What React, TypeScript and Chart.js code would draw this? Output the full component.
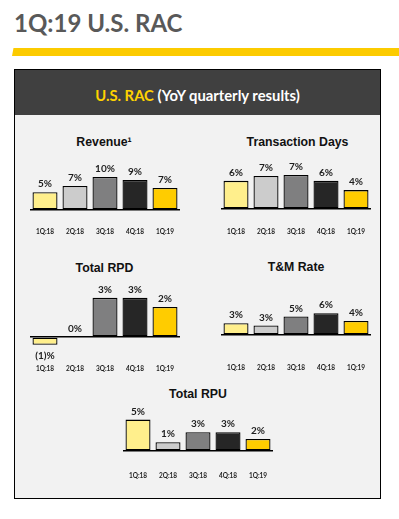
import React, { useEffect, useRef } from "react";
import { Chart, registerables } from "chart.js";

Chart.register(...registerables);

// ---- Data ----
const quarters = ["1Q:18", "2Q:18", "3Q:18", "4Q:18", "1Q:19"];

const revenue = [5.4, 7.3, 10.0, 9.1, 6.7];
const revenueLabels = ["5%", "7%", "10%", "9%", "7%"];

const transactionDays = [5.8, 6.8, 7.0, 5.8, 3.9];
const transactionDaysLabels = ["6%", "7%", "7%", "6%", "4%"];

const totalRpd = [-0.6, 0, 3.0, 3.0, 2.3];
const totalRpdLabels = ["(1)%", "0%", "3%", "3%", "2%"];

const tmRate = [3.2, 2.6, 5.0, 5.9, 3.8];
const tmRateLabels = ["3%", "3%", "5%", "6%", "4%"];

const totalRpu = [5.0, 1.4, 3.0, 3.0, 1.9];
const totalRpuLabels = ["5%", "1%", "3%", "3%", "2%"];

const barColors = ["#FFEF8C", "#CCCCCC", "#7F7F80", "#262626", "#FFCC00"];

// ---- Layout of each small chart ----
type Panel = {
  title: string;
  data: number[];
  labels: string[];
  left: number;
  top: number;
  plotH: number;
  min: number;
  max: number;
  pad: number;
  titleX: number;
  titleY: number;
};

const LABEL_LH = 8;

const panels: Panel[] = [
  { title: "Revenue\u00B9", data: revenue, labels: revenueLabels, left: 30, top: 150, plotH: 60, min: 0, max: 18.2, pad: 18, titleX: 104, titleY: 142 },
  { title: "Transaction Days", data: transactionDays, labels: transactionDaysLabels, left: 221, top: 150, plotH: 59, min: 0, max: 12.16, pad: 19, titleX: 297.5, titleY: 142 },
  { title: "Total RPD", data: totalRpd, labels: totalRpdLabels, left: 30, top: 277, plotH: 73, min: -1.0, max: 4.6, pad: 15, titleX: 104.5, titleY: 268 },
  { title: "T&M Rate", data: tmRate, labels: tmRateLabels, left: 221, top: 277, plotH: 58, min: 0, max: 15.7, pad: 29, titleX: 296, titleY: 267 },
  { title: "Total RPU", data: totalRpu, labels: totalRpuLabels, left: 123, top: 402, plotH: 49, min: 0, max: 7.8, pad: 21, titleX: 198, titleY: 394 },
];

const valueLabelPlugin = {
  id: "valueLabels",
  afterDatasetsDraw(chart: any, _args: any, opts: any) {
    const { ctx } = chart;
    const meta = chart.getDatasetMeta(0);
    const labels: string[] = opts.labels || [];
    const data = chart.data.datasets[0].data as number[];
    ctx.save();
    ctx.font = "bold 10px Lato";
    ctx.fillStyle = "#1e1e1e";
    ctx.textAlign = "center";
    ctx.textBaseline = "middle";
    meta.data.forEach((bar: any, i: number) => {
      const { x, y, base } = bar.getProps(["x", "y", "base"], true);
      const v = data[i];
      const ty = v < 0 ? Math.max(y, base) + 11 : Math.min(y, base) - 8;
      ctx.fillText(labels[i], x, ty);
    });
    ctx.restore();
  },
};

function SmallBarChart({ p }: { p: Panel }) {
  const ref = useRef<HTMLCanvasElement>(null);
  const axisH = p.pad + LABEL_LH + 2;
  const H = p.plotH + axisH;
  useEffect(() => {
    if (!ref.current) return;
    const chart = new Chart(ref.current, {
      type: "bar",
      data: {
        labels: quarters,
        datasets: [
          {
            data: p.data,
            backgroundColor: barColors,
            borderColor: "#000",
            borderWidth: 1.3,
            borderSkipped: false,
            categoryPercentage: 1,
            barPercentage: 25 / 30,
          },
        ],
      },
      options: {
        responsive: false,
        animation: false,
        devicePixelRatio: 1,
        layout: { padding: 0 },
        plugins: {
          legend: { display: false },
          tooltip: { enabled: false },
          title: { display: false },
          valueLabels: { labels: p.labels },
        } as any,
        scales: {
          x: {
            display: true,
            offset: true,
            grid: { display: false, drawTicks: false },
            border: { display: false },
            ticks: {
              padding: p.pad,
              maxRotation: 0,
              autoSkip: false,
              color: "#1e1e1e",
              font: { family: "Lato", weight: "bold", size: 6.5, lineHeight: LABEL_LH + "px" } as any,
            },
            afterFit: (s: any) => {
              s.paddingLeft = 0;
              s.paddingRight = 0;
              s.height = axisH;
            },
          },
          y: {
            display: true,
            min: p.min,
            max: p.max,
            border: { display: false },
            ticks: { display: false },
            grid: {
              drawTicks: false,
              lineWidth: 1.5,
              color: (c: any) => (c.tick && c.tick.value === 0 ? "#000" : "rgba(0,0,0,0)"),
            },
            afterBuildTicks: (s: any) => {
              s.ticks = [{ value: 0 }];
            },
            afterFit: (s: any) => {
              s.width = 0;
              s.paddingTop = 0;
              s.paddingBottom = 0;
            },
          },
        },
      },
      plugins: [valueLabelPlugin],
    });
    return () => chart.destroy();
  }, [p]);
  return (
    <canvas
      ref={ref}
      width={150}
      height={H}
      style={{ position: "absolute", left: p.left, top: p.top, width: 150, height: H }}
    />
  );
}

export default function App() {
  return (
    <div
      style={{
        position: "absolute",
        left: 0,
        top: 0,
        width: 399,
        height: 519,
        background: "#fff",
        overflow: "hidden",
      }}
    >
      <div
        style={{
          position: "absolute",
          left: 14,
          top: 8,
          fontFamily: "Lato",
          fontWeight: 700,
          fontSize: 24,
          lineHeight: "30px",
          color: "#595959",
          whiteSpace: "nowrap",
        }}
      >
        1Q:19 U.S. RAC
      </div>
      <div
        style={{
          position: "absolute",
          left: 12,
          top: 48,
          width: 387,
          height: 8,
          background: "#FCCB00",
          clipPath: "polygon(1.5px 0, 100% 0, 100% 100%, 0 100%)",
        }}
      />
      <div
        style={{
          position: "absolute",
          left: 14,
          top: 69,
          width: 367,
          height: 430,
          boxSizing: "border-box",
          border: "1px solid #000",
          background: "#F2F2F2",
        }}
      >
        <div
          style={{
            height: 45,
            background: "#404040",
            display: "flex",
            alignItems: "center",
            justifyContent: "center",
            fontFamily: "Lato",
            fontWeight: 700,
            fontSize: 14.8,
            color: "#fff",
            whiteSpace: "nowrap",
            paddingTop: 5,
            boxSizing: "border-box",
          }}
        >
          <span style={{ color: "#FFD200" }}>U.S. RAC</span>
          <span>&nbsp;(YoY quarterly results)</span>
        </div>
      </div>
      {panels.map((p) => (
        <div
          key={p.title}
          style={{
            position: "absolute",
            left: p.titleX,
            top: p.titleY,
            transform: "translate(-50%, -50%)",
            fontFamily: "'Liberation Sans', Arial, sans-serif",
            fontWeight: 700,
            fontSize: 12.3,
            lineHeight: "14px",
            color: "#111",
            whiteSpace: "nowrap",
          }}
        >
          {p.title}
        </div>
      ))}
      {panels.map((p) => (
        <SmallBarChart key={p.title + "c"} p={p} />
      ))}
    </div>
  );
}
